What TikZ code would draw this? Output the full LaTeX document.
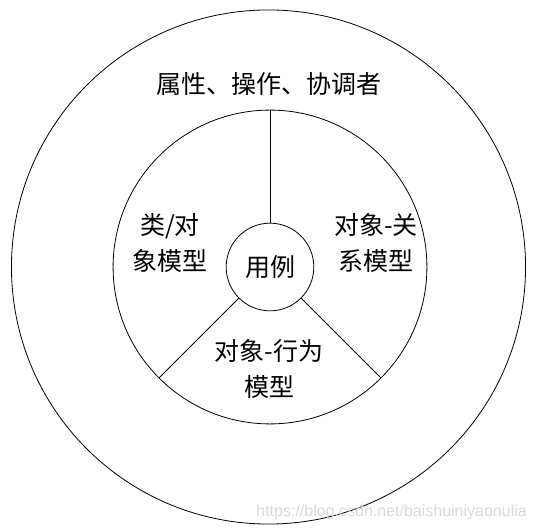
\documentclass[tikz,border=0pt]{standalone}
\usepackage{fontspec}
\setmainfont{Noto Sans CJK SC}
\newfontfamily\markfont{Liberation Sans}
\begin{document}
\begin{tikzpicture}
[x=1bp,y=1bp,
  ringDecorate/.style={shape=circle,draw,line width=0.8bp,inner sep=0pt,outer sep=0pt},%
  lineDecorate/.style={-,line width=0.8bp},%
  labelDecorate/.style={align=center,inner sep=0pt,font=\fontsize{25bp}{36bp}\selectfont}]
\useasboundingbox (-270,-262) rectangle (267,267);
%% rings
\foreach \nodename/\x/\size in {outer/-1.5/516, inner/0/315, core/0/88}
{
  \node (\nodename) at (\x,0) [ringDecorate,minimum size=\size] {};
}
%% labels
\node (usecase) at (core) [labelDecorate] {用例};
\node (attr) at (-1,183) [labelDecorate] {属性、操作、协调者};
\node (classmodel) at (-100,24) [labelDecorate] {类/对\\象模型};
\node (relmodel) at (106,24) [labelDecorate] {对象-关\\系模型};
\node (behmodel) at (-1,-102) [labelDecorate] {对象-行为\\模型};
\node (mark) at (257,-245) [anchor=east,inner sep=0pt,text=black!15,
  font=\markfont\fontsize{16bp}{16bp}\selectfont] {https://blog.csdn.net/baishuiniyaonulia};
%% spokes
\path
\foreach \angle in {90, -45, 225}
{
  (core.\angle) edge[lineDecorate] (inner.\angle)
};
\end{tikzpicture}
\end{document}
